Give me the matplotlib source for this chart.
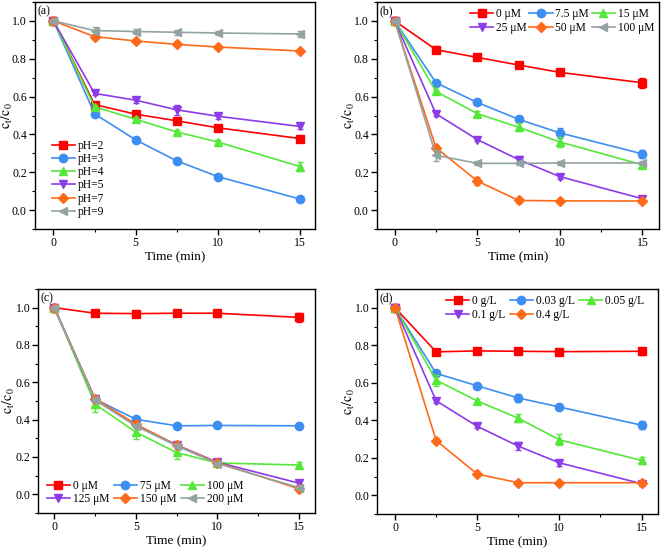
import matplotlib
matplotlib.use("Agg")
import matplotlib.pyplot as plt
from matplotlib.ticker import MultipleLocator

plt.rcParams["font.family"] = ["Liberation Serif", "DejaVu Serif"]
plt.rcParams["mathtext.fontset"] = "stix"

time = [0, 2.5, 5, 7.5, 10, 15]

# panel (a): pH
ph_labels = ["pH=2", "pH=3", "pH=4", "pH=5", "pH=7", "pH=9"]
ph_values = [
    [1.0, 0.558, 0.507, 0.472, 0.435, 0.378],
    [1.0, 0.509, 0.371, 0.260, 0.177, 0.058],
    [1.0, 0.546, 0.480, 0.413, 0.360, 0.230],
    [1.0, 0.617, 0.581, 0.530, 0.496, 0.442],
    [1.0, 0.917, 0.894, 0.876, 0.862, 0.841],
    [1.0, 0.949, 0.944, 0.940, 0.936, 0.931],
]
ph_err = [
    [0.01, 0.01, 0.01, 0.01, 0.01, 0.012],
    [0.01, 0.01, 0.01, 0.015, 0.01, 0.01],
    [0.01, 0.01, 0.01, 0.012, 0.012, 0.025],
    [0.01, 0.01, 0.015, 0.025, 0.015, 0.015],
    [0.01, 0.01, 0.01, 0.01, 0.01, 0.01],
    [0.01, 0.02, 0.015, 0.012, 0.012, 0.015],
]

# panel (b): oxidant dose
pms_labels = ["0 μM", "7.5 μM", "15 μM", "25 μM", "50 μM", "100 μM"]
pms_values = [
    [1.0, 0.848, 0.807, 0.767, 0.728, 0.673],
    [1.0, 0.673, 0.569, 0.480, 0.408, 0.297],
    [1.0, 0.627, 0.510, 0.438, 0.360, 0.239],
    [1.0, 0.509, 0.373, 0.267, 0.177, 0.060],
    [1.0, 0.330, 0.154, 0.051, 0.049, 0.048],
    [1.0, 0.290, 0.247, 0.247, 0.249, 0.249],
]
pms_err = [
    [0.01, 0.02, 0.01, 0.015, 0.012, 0.025],
    [0.01, 0.01, 0.01, 0.015, 0.025, 0.02],
    [0.01, 0.01, 0.012, 0.02, 0.025, 0.012],
    [0.01, 0.012, 0.01, 0.02, 0.012, 0.01],
    [0.01, 0.015, 0.02, 0.012, 0.01, 0.012],
    [0.01, 0.03, 0.01, 0.01, 0.01, 0.01],
]

# panel (c): second dose series
dose_labels = ["0 μM", "75 μM", "100 μM", "125 μM", "150 μM", "200 μM"]
dose_values = [
    [1.0, 0.970, 0.968, 0.970, 0.970, 0.948],
    [1.0, 0.510, 0.402, 0.367, 0.369, 0.367],
    [1.0, 0.483, 0.333, 0.224, 0.168, 0.157],
    [1.0, 0.510, 0.372, 0.265, 0.172, 0.060],
    [1.0, 0.512, 0.376, 0.262, 0.170, 0.030],
    [1.0, 0.505, 0.366, 0.260, 0.165, 0.036],
]
dose_err = [
    [0.01, 0.01, 0.01, 0.012, 0.02, 0.025],
    [0.01, 0.012, 0.01, 0.01, 0.01, 0.01],
    [0.01, 0.04, 0.035, 0.035, 0.015, 0.015],
    [0.01, 0.01, 0.01, 0.01, 0.01, 0.01],
    [0.01, 0.012, 0.012, 0.02, 0.01, 0.01],
    [0.01, 0.01, 0.01, 0.01, 0.01, 0.01],
]

# panel (d): catalyst dose
cat_labels = ["0 g/L", "0.03 g/L", "0.05 g/L", "0.1 g/L", "0.4 g/L"]
cat_values = [
    [1.0, 0.765, 0.770, 0.768, 0.766, 0.768],
    [1.0, 0.650, 0.584, 0.519, 0.471, 0.374],
    [1.0, 0.614, 0.503, 0.411, 0.296, 0.186],
    [1.0, 0.504, 0.368, 0.262, 0.173, 0.062],
    [1.0, 0.292, 0.113, 0.067, 0.067, 0.067],
]
cat_err = [
    [0.01, 0.01, 0.01, 0.01, 0.01, 0.02],
    [0.01, 0.01, 0.012, 0.02, 0.015, 0.02],
    [0.01, 0.03, 0.012, 0.02, 0.03, 0.02],
    [0.01, 0.012, 0.01, 0.02, 0.015, 0.015],
    [0.01, 0.015, 0.012, 0.01, 0.01, 0.01],
]

colors = ["#ff0000", "#3d8ef0", "#55e83a", "#8c3ce8", "#ff6a1a", "#93a3a3"]
markers = ["s", "o", "^", "v", "D", "<"]
sizes = [5.5, 6, 6, 6, 5, 6]


def draw(ax, labels, values, errors, tag, xlim, ylabel_x):
    handles = []
    for i, (lab, vals, err) in enumerate(zip(labels, values, errors)):
        ax.errorbar(time, vals, yerr=err, fmt="none", ecolor=colors[i],
                    elinewidth=1.0, capsize=2)
        line, = ax.plot(time, vals, color=colors[i], marker=markers[i],
                        markersize=sizes[i], linewidth=1.2, label=lab)
        handles.append(line)
    ax.set_xlim(*xlim)
    ax.set_ylim(-0.1, 1.1)
    ax.set_xticks([0, 5, 10, 15])
    ax.set_yticks([0.0, 0.2, 0.4, 0.6, 0.8, 1.0])
    ax.xaxis.set_minor_locator(MultipleLocator(2.5))
    ax.yaxis.set_minor_locator(MultipleLocator(0.1))
    ax.tick_params(which="major", direction="out", length=4, width=1, labelsize=8.5,
                   pad=1.5)
    ax.tick_params(which="minor", direction="out", length=2, width=0.8)
    ax.set_xlabel("Time (min)", fontsize=9.5, labelpad=2)
    ax.set_ylabel(r"$\mathrm{c_t/c_0}$", fontsize=10)
    ax.yaxis.set_label_coords(ylabel_x, 0.5)
    ax.text(0.01, 0.985, tag, transform=ax.transAxes, ha="left", va="top", fontsize=8.5)
    for s in ax.spines.values():
        s.set_linewidth(1.0)
    return handles


fig = plt.figure(figsize=(6.61, 5.52), dpi=100)
ax_a = fig.add_axes([0.0522, 0.5851, 0.4244, 0.4113])
ax_b = fig.add_axes([0.5696, 0.5851, 0.4274, 0.4113])
ax_c = fig.add_axes([0.0575, 0.0707, 0.4191, 0.4058])
ax_d = fig.add_axes([0.5703, 0.0688, 0.4251, 0.4076])

legend_kw = dict(frameon=False, fontsize=8.3, handlelength=2.0, handletextpad=0.25,
                 borderpad=0.0, borderaxespad=0.0, loc="upper left")

h = draw(ax_a, ph_labels, ph_values, ph_err, "(a)", (-1.15, 15.9), -0.068)
ax_a.legend(handles=h, bbox_to_anchor=(0.062, 0.392), labelspacing=0.1, **legend_kw)

h = draw(ax_b, pms_labels, pms_values, pms_err, "(b)", (-1.1, 16.0), -0.069)
order = [0, 3, 1, 4, 2, 5]
ax_b.legend(handles=[h[i] for i in order], ncol=3, columnspacing=0.25,
            bbox_to_anchor=(0.331, 0.974), labelspacing=0.2, **legend_kw)

h = draw(ax_c, dose_labels, dose_values, dose_err, "(c)", (-1.0, 16.0), -0.076)
ax_c.legend(handles=[h[i] for i in order], ncol=3, columnspacing=0.4,
            bbox_to_anchor=(0.032, 0.147), labelspacing=0.1, **legend_kw)

h = draw(ax_d, cat_labels, cat_values, cat_err, "(d)", (-1.1, 16.0), -0.071)
order_d = [0, 3, 1, 4, 2]
ax_d.legend(handles=[h[i] for i in order_d], ncol=3, columnspacing=0.4,
            bbox_to_anchor=(0.246, 0.973), labelspacing=0.2, **legend_kw)

fig.savefig("out.png", dpi=100)
